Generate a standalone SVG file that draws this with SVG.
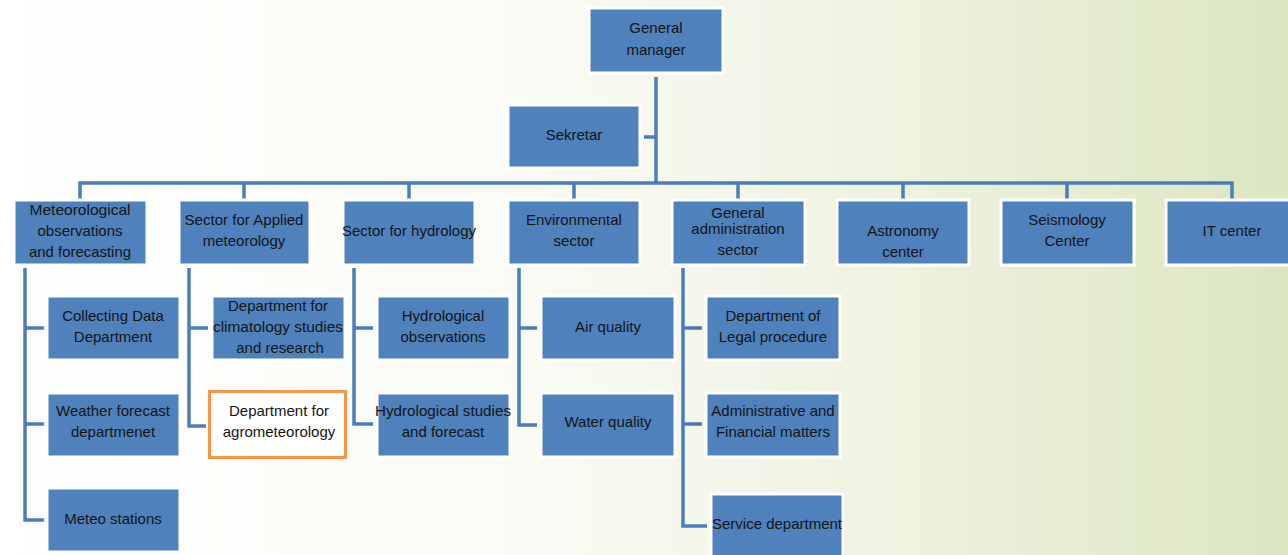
<svg xmlns="http://www.w3.org/2000/svg" width="1288" height="555" viewBox="0 0 1288 555">
<defs>
<linearGradient id="bg" x1="0" y1="0" x2="1" y2="0">
<stop offset="0" stop-color="#ffffff"/>
<stop offset="0.4" stop-color="#fafbf5"/>
<stop offset="0.7" stop-color="#eef2df"/>
<stop offset="1" stop-color="#dce6c1"/>
</linearGradient>
<style>
.b{fill:#4f81bd;stroke:#ffffff;stroke-width:3}
.hl{fill:#ffffff;stroke:#f79646;stroke-width:3}
.t{font-family:"Liberation Sans",Arial,sans-serif;font-size:15px;fill:#141414;text-anchor:middle}
.c{fill:none;stroke:#4a7ebb;stroke-width:3.5}
</style>
</defs>
<rect x="0" y="0" width="1288" height="555" fill="url(#bg)"/>
<g id="connectors">
<path class="c" d="M656,77V183M644,137H656"/>
<path class="c" d="M80,199V183H1232V199M244,183V199M409,183V199M574,183V199M738,183V199M903,183V199M1067,183V199"/>
<path class="c" d="M44,328H25M25,268V520H44M25,424H44"/>
<path class="c" d="M208,328H189M189,268V426H206"/>
<path class="c" d="M373,328H354M354,268V424H373"/>
<path class="c" d="M537,328H519M519,268V425H537"/>
<path class="c" d="M702,328H683M683,268V526H707M683,424H702"/>
</g>
<g id="n-gm"><rect class="b" x="589" y="8" width="134" height="65"/><text class="t" x="656" y="33">General</text><text class="t" x="656" y="55">manager</text></g>
<g id="n-sek"><rect class="b" x="508" y="105" width="132" height="63"/><text class="t" x="574" y="140">Sekretar</text></g>
<g id="n-met"><rect class="b" x="14" y="200" width="133" height="65"/><text class="t" x="80" y="215" textLength="101" lengthAdjust="spacingAndGlyphs">Meteorological</text><text class="t" x="80" y="236" textLength="85" lengthAdjust="spacingAndGlyphs">observations</text><text class="t" x="80" y="257" textLength="102" lengthAdjust="spacingAndGlyphs">and forecasting</text></g>
<g id="n-app"><rect class="b" x="179" y="200" width="131" height="65"/><text class="t" x="244" y="225" textLength="119" lengthAdjust="spacingAndGlyphs">Sector for Applied</text><text class="t" x="244" y="246">meteorology</text></g>
<g id="n-hyd"><rect class="b" x="343" y="200" width="132" height="65"/><text class="t" x="409" y="236" textLength="134" lengthAdjust="spacingAndGlyphs">Sector for hydrology</text></g>
<g id="n-env"><rect class="b" x="508" y="200" width="132" height="65"/><text class="t" x="574" y="225">Environmental</text><text class="t" x="574" y="246">sector</text></g>
<g id="n-adm"><rect class="b" x="672" y="200" width="133" height="65"/><text class="t" x="738" y="218">General</text><text class="t" x="738" y="234">administration</text><text class="t" x="738" y="255">sector</text></g>
<g id="n-ast"><rect class="b" x="837" y="200" width="132" height="65"/><text class="t" x="903" y="236">Astronomy</text><text class="t" x="903" y="257">center</text></g>
<g id="n-sei"><rect class="b" x="1001" y="200" width="133" height="65"/><text class="t" x="1067" y="225">Seismology</text><text class="t" x="1067" y="246">Center</text></g>
<g id="n-it"><rect class="b" x="1166" y="200" width="132" height="65"/><text class="t" x="1232" y="236">IT center</text></g>
<g id="n-col"><rect class="b" x="47" y="296" width="133" height="64"/><text class="t" x="113" y="321">Collecting Data</text><text class="t" x="113" y="342">Department</text></g>
<g id="n-wea"><rect class="b" x="47" y="393" width="133" height="64"/><text class="t" x="113" y="416">Weather forecast</text><text class="t" x="113" y="437">departmenet</text></g>
<g id="n-mst"><rect class="b" x="47" y="488" width="133" height="64"/><text class="t" x="113" y="524">Meteo stations</text></g>
<g id="n-cli"><rect class="b" x="212" y="296" width="133" height="64"/><text class="t" x="278" y="311">Department for</text><text class="t" x="278" y="332" textLength="130" lengthAdjust="spacingAndGlyphs">climatology studies</text><text class="t" x="280" y="353">and research</text></g>
<g id="n-agr"><rect class="hl" x="209.5" y="391.5" width="136" height="66"/><text class="t" x="279" y="416">Department for</text><text class="t" x="279" y="437">agrometeorology</text></g>
<g id="n-hob"><rect class="b" x="377" y="296" width="133" height="64"/><text class="t" x="443" y="321">Hydrological</text><text class="t" x="443" y="342">observations</text></g>
<g id="n-hst"><rect class="b" x="377" y="393" width="133" height="64"/><text class="t" x="443" y="416" textLength="136" lengthAdjust="spacingAndGlyphs">Hydrological studies</text><text class="t" x="443" y="437">and forecast</text></g>
<g id="n-air"><rect class="b" x="541" y="296" width="134" height="64"/><text class="t" x="608" y="332">Air quality</text></g>
<g id="n-wat"><rect class="b" x="541" y="393" width="134" height="64"/><text class="t" x="608" y="427">Water quality</text></g>
<g id="n-leg"><rect class="b" x="706" y="296" width="134" height="64"/><text class="t" x="773" y="321">Department of</text><text class="t" x="773" y="342">Legal procedure</text></g>
<g id="n-fin"><rect class="b" x="706" y="393" width="134" height="64"/><text class="t" x="773" y="416">Administrative and</text><text class="t" x="773" y="437">Financial matters</text></g>
<g id="n-ser"><rect class="b" x="711" y="494" width="132" height="64"/><text class="t" x="777" y="529" textLength="130" lengthAdjust="spacingAndGlyphs">Service department</text></g>
</svg>
